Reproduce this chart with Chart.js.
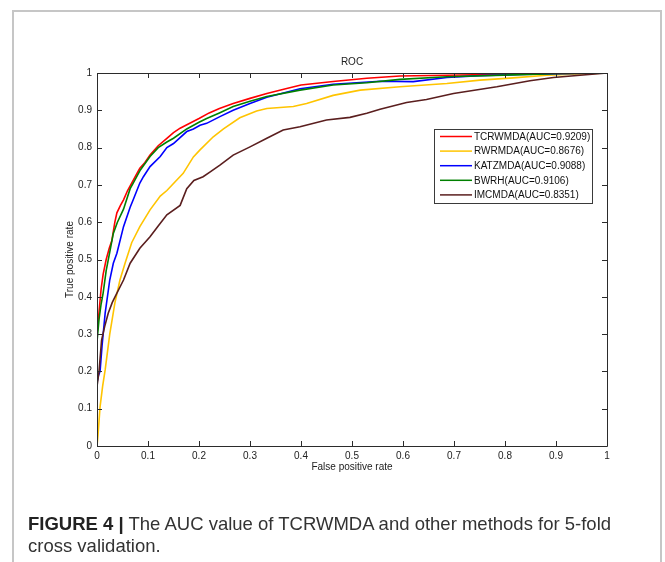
<!DOCTYPE html>
<html>
<head>
<meta charset="utf-8">
<script src="https://cdn.jsdelivr.net/npm/chart.js@4.4.1/dist/chart.umd.min.js"></script>
<style>
  html, body { margin: 0; padding: 0; background: #fff; }
  #wrap { position: relative; width: 665px; height: 562px; overflow: hidden; background: #fff; }
  #frame { position: absolute; left: 12px; top: 10px; width: 650px; height: 600px; border: 2px solid #c6c6c6; box-sizing: border-box; }
  #roc { position: absolute; left: 0; top: 0; }
  #caption { position: absolute; left: 28px; top: 513px; width: 630px; font: 18.5px "Liberation Sans", Arial, sans-serif; line-height: 22px; color: #333; white-space: nowrap; }
  #caption b { color: #222; }
</style>
</head>
<body>
<div id="wrap">
  <div id="frame"></div>
  <canvas id="roc" width="665" height="562"></canvas>
  <div id="caption"><b>FIGURE 4 |</b> The AUC value of TCRWMDA and other methods for 5-fold<br>cross validation.</div>
</div>
<script>
const TICK_VALUES = [0, 0.1, 0.2, 0.3, 0.4, 0.5, 0.6, 0.7, 0.8, 0.9, 1];
const TICK_LABELS = ["0", "0.1", "0.2", "0.3", "0.4", "0.5", "0.6", "0.7", "0.8", "0.9", "1"];

const METHODS = ["TCRWMDA(AUC=0.9209)", "RWRMDA(AUC=0.8676)", "KATZMDA(AUC=0.9088)", "BWRH(AUC=0.9106)", "IMCMDA(AUC=0.8351)"];
const COLORS = ["#ff0000", "#ffc400", "#0000ff", "#008000", "#5a1e1e"];

// TCRWMDA
const tcrwFpr = [0, 0, 0.004, 0.008, 0.012, 0.018, 0.024, 0.029, 0.035, 0.039, 0.046, 0.052, 0.06, 0.068, 0.076, 0.084, 0.094, 0.104, 0.12, 0.137, 0.15, 0.163, 0.18, 0.2, 0.22, 0.24, 0.267, 0.3, 0.333, 0.37, 0.4, 0.463, 0.529, 0.594, 0.686, 0.816, 0.9, 1];
const tcrwTpr = [0, 0.30, 0.36, 0.42, 0.46, 0.50, 0.53, 0.55, 0.60, 0.625, 0.645, 0.66, 0.685, 0.705, 0.725, 0.745, 0.76, 0.78, 0.805, 0.825, 0.84, 0.852, 0.864, 0.878, 0.893, 0.905, 0.918, 0.932, 0.945, 0.958, 0.968, 0.977, 0.986, 0.992, 0.994, 0.997, 0.999, 1];

// RWRMDA
const rwrFpr = [0, 0.002, 0.006, 0.011, 0.016, 0.025, 0.035, 0.045, 0.055, 0.068, 0.084, 0.104, 0.124, 0.137, 0.169, 0.189, 0.202, 0.228, 0.248, 0.28, 0.313, 0.333, 0.385, 0.411, 0.463, 0.516, 0.594, 0.686, 0.751, 0.816, 0.882, 0.92, 1];
const rwrTpr = [0, 0.03, 0.105, 0.16, 0.204, 0.30, 0.383, 0.445, 0.49, 0.545, 0.588, 0.633, 0.67, 0.685, 0.731, 0.775, 0.794, 0.829, 0.85, 0.88, 0.898, 0.905, 0.91, 0.918, 0.94, 0.954, 0.963, 0.972, 0.981, 0.987, 0.994, 0.996, 1];

// KATZMDA
const katzFpr = [0, 0, 0.003, 0.006, 0.01, 0.016, 0.025, 0.032, 0.039, 0.052, 0.065, 0.071, 0.084, 0.091, 0.104, 0.124, 0.137, 0.15, 0.176, 0.189, 0.202, 0.215, 0.241, 0.267, 0.3, 0.333, 0.398, 0.463, 0.555, 0.62, 0.686, 0.75, 0.83, 0.91, 1];
const katzTpr = [0, 0.17, 0.19, 0.2, 0.27, 0.356, 0.445, 0.49, 0.517, 0.588, 0.64, 0.66, 0.705, 0.722, 0.749, 0.776, 0.80, 0.811, 0.843, 0.85, 0.86, 0.865, 0.883, 0.90, 0.918, 0.935, 0.958, 0.97, 0.978, 0.977, 0.988, 0.993, 0.996, 0.998, 1];

// BWRH
const bwrhFpr = [0, 0, 0.004, 0.008, 0.012, 0.018, 0.025, 0.032, 0.04, 0.052, 0.065, 0.071, 0.085, 0.104, 0.12, 0.137, 0.15, 0.176, 0.2, 0.215, 0.24, 0.267, 0.3, 0.333, 0.398, 0.463, 0.529, 0.594, 0.686, 0.816, 0.908, 1];
const bwrhTpr = [0, 0.28, 0.34, 0.38, 0.41, 0.47, 0.52, 0.57, 0.60, 0.635, 0.69, 0.705, 0.74, 0.776, 0.80, 0.815, 0.825, 0.85, 0.868, 0.878, 0.893, 0.91, 0.924, 0.937, 0.954, 0.968, 0.974, 0.983, 0.99, 0.995, 0.999, 1];

// IMCMDA
const imcFpr = [0, 0, 0.004, 0.009, 0.015, 0.022, 0.03, 0.039, 0.052, 0.065, 0.084, 0.104, 0.12, 0.137, 0.163, 0.176, 0.19, 0.208, 0.222, 0.241, 0.267, 0.3, 0.333, 0.365, 0.398, 0.45, 0.496, 0.529, 0.555, 0.607, 0.646, 0.699, 0.784, 0.849, 0.895, 0.947, 1];
const imcTpr = [0, 0.16, 0.2, 0.284, 0.32, 0.356, 0.385, 0.41, 0.445, 0.49, 0.53, 0.561, 0.59, 0.62, 0.645, 0.69, 0.712, 0.722, 0.735, 0.753, 0.78, 0.802, 0.825, 0.847, 0.856, 0.874, 0.881, 0.892, 0.903, 0.921, 0.929, 0.945, 0.963, 0.979, 0.988, 0.994, 1];

const SERIES = [
  [tcrwFpr, tcrwTpr],
  [rwrFpr, rwrTpr],
  [katzFpr, katzTpr],
  [bwrhFpr, bwrhTpr],
  [imcFpr, imcTpr]
];

const FONT = '"Liberation Sans", Arial, sans-serif';

const toPoints = (xs, ys) => xs.map((x, i) => ({ x, y: ys[i] }));

// matlab style box with inward ticks on all four sides
const axisBox = {
  id: "axisBox",
  afterDatasetsDraw(chart) {
    const { ctx, chartArea: a, scales: { x, y } } = chart;
    ctx.save();
    ctx.strokeStyle = "#2b2b2b";
    ctx.lineWidth = 1;
    ctx.beginPath();
    ctx.rect(Math.round(a.left) + 0.5, Math.round(a.top) + 0.5, Math.round(a.right - a.left), Math.round(a.bottom - a.top));
    TICK_VALUES.forEach(v => {
      const px = Math.round(x.getPixelForValue(v)) + 0.5;
      ctx.moveTo(px, a.bottom); ctx.lineTo(px, a.bottom - 5);
      ctx.moveTo(px, a.top); ctx.lineTo(px, a.top + 5);
      const py = Math.round(y.getPixelForValue(v)) + 0.5;
      ctx.moveTo(a.left, py); ctx.lineTo(a.left + 5, py);
      ctx.moveTo(a.right, py); ctx.lineTo(a.right - 5, py);
    });
    ctx.stroke();
    ctx.restore();
  },
  afterDraw(chart) {
    const { ctx } = chart;
    const box = { x: 434, y: 129, w: 158, h: 74 };
    ctx.save();
    ctx.fillStyle = "#fff";
    ctx.fillRect(box.x, box.y, box.w, box.h);
    ctx.strokeStyle = "#3a3a3a";
    ctx.lineWidth = 1;
    ctx.strokeRect(box.x + 0.5, box.y + 0.5, box.w, box.h);
    ctx.font = "10px " + FONT;
    ctx.textBaseline = "middle";
    ctx.fillStyle = "#111";
    METHODS.forEach((name, i) => {
      const yy = box.y + 7.5 + i * 14.6;
      ctx.strokeStyle = COLORS[i];
      ctx.lineWidth = 1.5;
      ctx.beginPath();
      ctx.moveTo(440, yy); ctx.lineTo(472, yy);
      ctx.stroke();
      ctx.fillText(name, 474, yy + 0.5);
    });
    ctx.restore();
  }
};

new Chart(document.getElementById("roc"), {
  type: "scatter",
  data: {
    datasets: SERIES.map(([xs, ys], i) => ({
      label: METHODS[i],
      data: toPoints(xs, ys),
      showLine: true,
      borderColor: COLORS[i],
      backgroundColor: COLORS[i],
      borderWidth: 1.6,
      pointRadius: 0,
      tension: 0,
      order: SERIES.length - i
    }))
  },
  options: {
    responsive: false,
    animation: false,
    devicePixelRatio: 1,
    layout: { padding: { top: 50, left: 60, right: 58, bottom: 76 } },
    plugins: {
      legend: { display: false },
      tooltip: { enabled: false },
      title: {
        display: true,
        text: "ROC",
        fullSize: false,
        color: "#222",
        font: { family: FONT, size: 10, weight: "normal" },
        padding: { top: 6, bottom: 5 }
      }
    },
    scales: {
      x: {
        type: "linear",
        min: 0, max: 1,
        afterFit: s => { s.height = 40; },
        afterBuildTicks: s => { s.ticks = TICK_VALUES.map(v => ({ value: v })); },
        grid: { display: false, drawTicks: false },
        border: { display: false },
        ticks: {
          padding: 4,
          maxRotation: 0,
          color: "#222",
          font: { family: FONT, size: 10 },
          callback: (v, i) => TICK_LABELS[i]
        },
        title: {
          display: true,
          text: "False positive rate",
          color: "#222",
          font: { family: FONT, size: 10 },
          padding: { top: 0, bottom: 13 }
        }
      },
      y: {
        type: "linear",
        min: 0, max: 1,
        afterFit: s => { s.width = 37; },
        afterBuildTicks: s => { s.ticks = TICK_VALUES.map(v => ({ value: v })); },
        grid: { display: false, drawTicks: false },
        border: { display: false },
        ticks: {
          padding: 5,
          color: "#222",
          font: { family: FONT, size: 10 },
          callback: (v, i) => TICK_LABELS[i]
        },
        title: {
          display: true,
          text: "True positive rate",
          color: "#222",
          font: { family: FONT, size: 10 },
          padding: { top: 4, bottom: 0 }
        }
      }
    }
  },
  plugins: [axisBox]
});
</script>
</body>
</html>
